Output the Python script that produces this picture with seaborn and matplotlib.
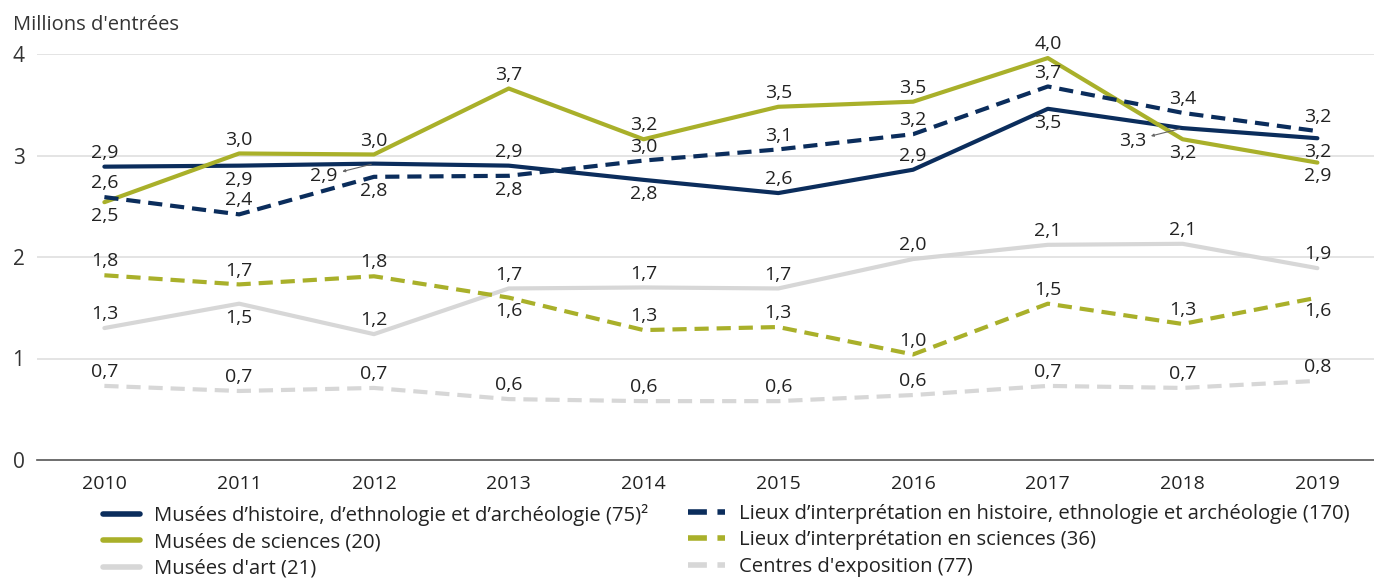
import seaborn as sns
import pandas as pd
import matplotlib.pyplot as plt
from matplotlib.ticker import FixedLocator

years = list(range(2010, 2020))

# millions d'entrées par type d'institution
hist_musees = [2.89, 2.90, 2.92, 2.90, 2.76, 2.63, 2.86, 3.46, 3.27, 3.17]
hist_lieux = [2.59, 2.42, 2.79, 2.80, 2.95, 3.06, 3.21, 3.68, 3.42, 3.24]
sci_musees = [2.54, 3.02, 3.01, 3.66, 3.16, 3.48, 3.53, 3.96, 3.16, 2.93]
sci_lieux = [1.82, 1.73, 1.81, 1.60, 1.28, 1.31, 1.04, 1.54, 1.34, 1.60]
art_musees = [1.30, 1.54, 1.24, 1.69, 1.70, 1.69, 1.98, 2.12, 2.13, 1.89]
centres = [0.73, 0.68, 0.71, 0.60, 0.58, 0.58, 0.64, 0.73, 0.71, 0.78]

names = [
    "Musées d’histoire, d’ethnologie et d’archéologie (75)²",
    "Musées de sciences (20)",
    "Musées d'art (21)",
    "Lieux d’interprétation en histoire, ethnologie et archéologie (170)",
    "Lieux d’interprétation en sciences (36)",
    "Centres d'exposition (77)",
]
series = [hist_musees, sci_musees, art_musees, hist_lieux, sci_lieux, centres]

# where each value label sits: a = above, b = below, L = with leader line
label_pos = [
    "abLabaabLb",
    "baaaaaaabb",
    "abaaaaaaaa",
    "aabbaaaaaa",
    "aaabaaaaab",
    "aaaaaaaaaa",
]

navy = "#0b2d5c"
olive = "#a9b02a"
grey = "#d7d7d7"
colors = dict(zip(names, [navy, olive, grey, navy, olive, grey]))
dash = (3.4, 1.9)
dashes = dict(zip(names, ["", "", "", dash, dash, dash]))

df = pd.DataFrame({
    "annee": years * len(names),
    "valeur": [v for s in series for v in s],
    "type": [n for n in names for _ in years],
})

sns.set_style("white")
plt.rcParams["font.family"] = ["Open Sans", "DejaVu Sans"]

fig, ax = plt.subplots(figsize=(13.74, 5.84), dpi=100)
fig.subplots_adjust(left=37 / 1374, right=1.0, bottom=1 - 460 / 584, top=1 - 54 / 584)

sns.lineplot(data=df, x="annee", y="valeur", hue="type", style="type",
             palette=colors, dashes=dashes, hue_order=names, style_order=names,
             linewidth=3, ax=ax, legend=True)

ax.set_xlim(2009.5, 2019.42)
ax.set_ylim(0, 4)
ax.set_xlabel("")
ax.set_ylabel("")
ax.set_yticks([0, 1, 2, 3, 4])
ax.set_yticklabels(["0", "1", "2", "3", "4"])
ax.set_xticks(years)
ax.set_xticklabels([str(y) for y in years])
ax.xaxis.set_minor_locator(FixedLocator([y - 0.5 for y in years]))
ax.tick_params(axis="x", which="major", length=0, pad=11, labelsize=14, labelcolor="#222222")
ax.tick_params(axis="x", which="minor", length=6, width=1.2, color="#555555", direction="out")
ax.tick_params(axis="y", length=0, pad=9, labelsize=15, labelcolor="#333333")
for y in [1, 2, 3, 4]:
    ax.axhline(y, color="#e2e2e2", lw=1.3, zorder=0)
for side in ["left", "right", "top"]:
    ax.spines[side].set_visible(False)
ax.spines["bottom"].set_color("#555555")
ax.spines["bottom"].set_linewidth(1.2)

# value labels
for s, pos in zip(series, label_pos):
    for x, v, p in zip(years, s, pos):
        txt = f"{v:.1f}".replace(".", ",")
        if p == "L":
            ax.annotate(txt, (x, v), xytext=(-36, -9), textcoords="offset points",
                        ha="center", va="center", fontsize=14, color="#222222",
                        arrowprops=dict(arrowstyle="<|-", color="#666666", lw=0.8,
                                        mutation_scale=4, shrinkA=1, shrinkB=2))
        else:
            dy = 10 if p == "a" else -10
            ax.annotate(txt, (x, v), xytext=(0, dy), textcoords="offset points",
                        ha="center", va="center", fontsize=14, color="#222222",
                        annotation_clip=False)

fig.text(13 / 1374, 1 - 25 / 584, "Millions d'entrées", fontsize=14.5,
         color="#333333", ha="left", va="center")

handles, labels = ax.get_legend_handles_labels()
ax.legend_.remove()
for h in handles:
    h.set_linewidth(4)
hmap = dict(zip(labels, handles))
for i, x0 in enumerate([103, 688]):
    grp = names[i * 3:(i + 1) * 3]
    fig.legend([hmap[n] for n in grp], grp, loc="upper left",
               bbox_to_anchor=(x0 / 1374, 1 - 504 / 584), frameon=False,
               fontsize=14.6, borderpad=0, borderaxespad=0, handlelength=1.8,
               handletextpad=0.72, labelspacing=0.32, labelcolor="#222222")

fig.savefig("out.png", dpi=100)
